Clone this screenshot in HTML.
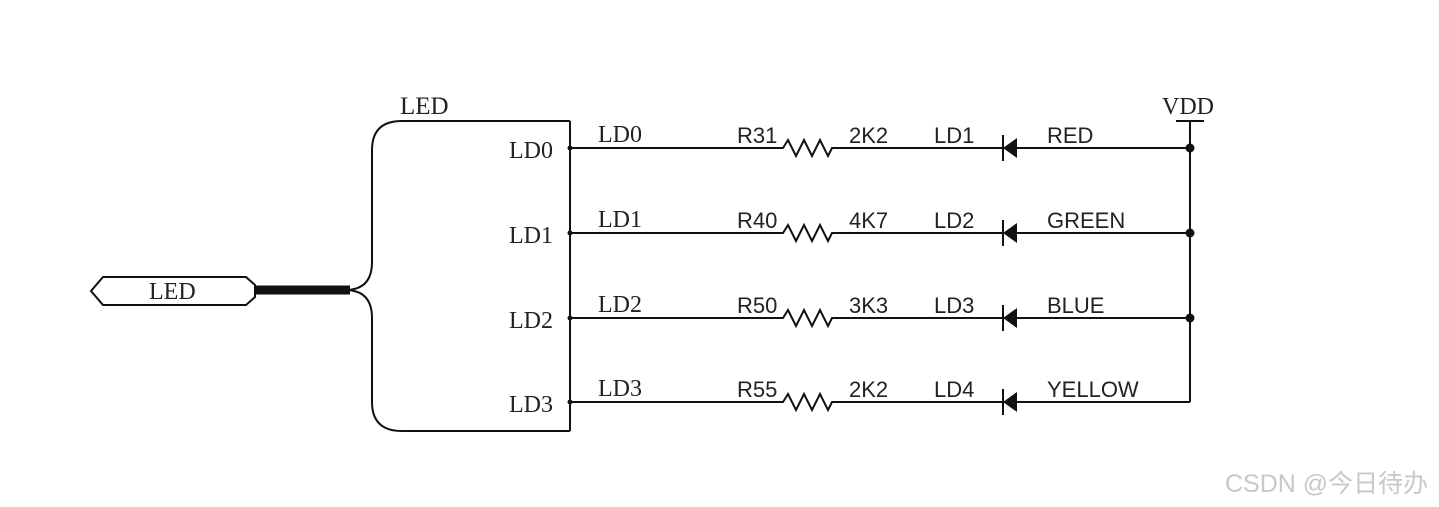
<!DOCTYPE html>
<html><head><meta charset="utf-8"><style>
html,body{margin:0;padding:0;background:#fff;width:1439px;height:507px;overflow:hidden}
</style></head><body>
<svg width="1439" height="507" xmlns="http://www.w3.org/2000/svg">
<g fill="none" stroke="#111" stroke-width="2">
<path d="M570 121 H402 Q372 121 372 150 V262 Q372 290 345 290"/>
<path d="M570 431 H402 Q372 431 372 402 V318 Q372 290 345 290"/>
<path d="M570 121 V431"/>
<path d="M255 290 H350" stroke-width="9"/>
<path d="M91 291 L103 277 H246 L255 285 V297 L246 305 H103 Z"/>
<path d="M1176 121 H1204 M1190 121 V402"/>
<path d="M570 148 H783 L788 140 L796 156 L804 140 L812 156 L820 140 L828 156 L832 148 H1003 M1017 148 H1190"/>
<path d="M570 233 H783 L788 225 L796 241 L804 225 L812 241 L820 225 L828 241 L832 233 H1003 M1017 233 H1190"/>
<path d="M570 318 H783 L788 310 L796 326 L804 310 L812 326 L820 310 L828 326 L832 318 H1003 M1017 318 H1190"/>
<path d="M570 402 H783 L788 394 L796 410 L804 394 L812 410 L820 394 L828 410 L832 402 H1003 M1017 402 H1190"/>
<path d="M1003 135 V161 M1003 220 V246 M1003 305 V331 M1003 389 V415"/>
</g>
<g fill="#111">
<path d="M1003 148 L1017 138 V158 Z"/>
<path d="M1003 233 L1017 223 V243 Z"/>
<path d="M1003 318 L1017 308 V328 Z"/>
<path d="M1003 402 L1017 392 V412 Z"/>
<circle cx="570" cy="148" r="2.5"/><circle cx="570" cy="233" r="2.5"/><circle cx="570" cy="318" r="2.5"/><circle cx="570" cy="402" r="2.5"/>
<circle cx="1190" cy="148" r="4.5"/><circle cx="1190" cy="233" r="4.5"/><circle cx="1190" cy="318" r="4.5"/>
</g>
<g font-family="'Liberation Serif',serif" font-size="24" fill="#222">
<text x="400" y="114" font-size="25">LED</text>
<text x="149" y="299">LED</text>
<text x="1162" y="114">VDD</text>
<text x="509" y="158">LD0</text><text x="509" y="243">LD1</text><text x="509" y="328">LD2</text><text x="509" y="412">LD3</text>
<text x="598" y="142">LD0</text><text x="598" y="227">LD1</text><text x="598" y="312">LD2</text><text x="598" y="396">LD3</text>
</g>
<g font-family="'Liberation Sans',sans-serif" font-size="22" fill="#222">
<text x="737" y="143">R31</text><text x="849" y="143">2K2</text><text x="934" y="143">LD1</text><text x="1047" y="143">RED</text>
<text x="737" y="228">R40</text><text x="849" y="228">4K7</text><text x="934" y="228">LD2</text><text x="1047" y="228">GREEN</text>
<text x="737" y="313">R50</text><text x="849" y="313">3K3</text><text x="934" y="313">LD3</text><text x="1047" y="313">BLUE</text>
<text x="737" y="397">R55</text><text x="849" y="397">2K2</text><text x="934" y="397">LD4</text><text x="1047" y="397">YELLOW</text>
</g>
<text x="1225" y="492" font-family="'Liberation Sans','Noto Sans CJK SC',sans-serif" font-size="25" fill="#c8c8c8">CSDN @今日待办</text>
</svg>
</body></html>
